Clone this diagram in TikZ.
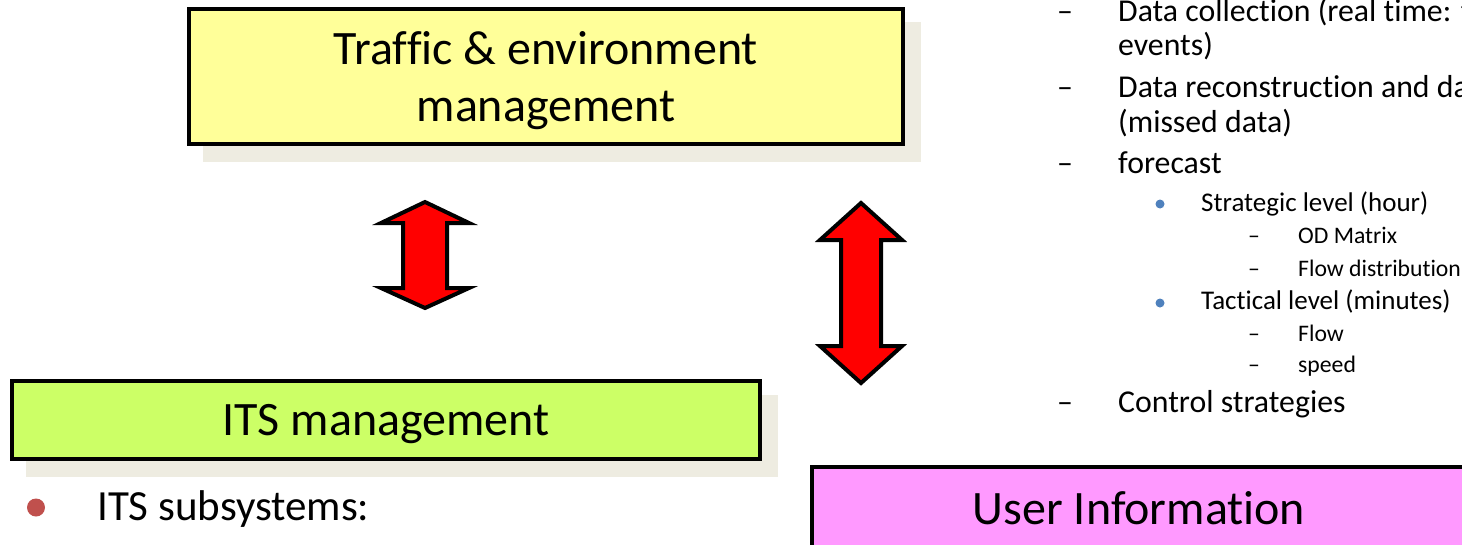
\documentclass[tikz,border=0pt]{standalone}
\usepackage{fontspec}
\setmainfont{Carlito}[Ligatures={NoCommon,NoRequired,NoContextual}]
\definecolor{boxyellow}{HTML}{FFFF99}
\definecolor{boxgreen}{HTML}{CCFF66}
\definecolor{boxpink}{HTML}{FF99FF}
\definecolor{shadowc}{HTML}{EEECE1}
\definecolor{bulblue}{HTML}{4F81BD}
\definecolor{bulred}{HTML}{C0504D}
\definecolor{arrred}{HTML}{FF0000}
\begin{document}
\begin{tikzpicture}[x=1pt,y=-1pt,
  titlebox/.style={draw=black, line width=4pt, inner sep=0pt, align=center,
    font=\fontsize{48}{57}\selectfont, text depth=0pt},
  shadowbox/.style={fill=shadowc},
  bigarrow/.style={draw=black, fill=arrred, line width=4pt, line join=miter},
  lvlone/.style={anchor=base west, inner sep=0pt, font=\fontsize{31.8}{37}\selectfont},
  lvltwo/.style={anchor=base west, inner sep=0pt, font=\fontsize{27}{32}\selectfont},
  lvlthree/.style={anchor=base west, inner sep=0pt, font=\fontsize{23.7}{28}\selectfont},
  lvlmain/.style={anchor=base west, inner sep=0pt, font=\fontsize{43}{50}\selectfont},
  dotblue/.style={circle, fill=bulblue, inner sep=0pt, minimum size=9pt},
  dotred/.style={circle, fill=bulred, inner sep=0pt, minimum size=18pt}
]
\useasboundingbox (0,0) rectangle (1462,544);
\begin{scope}
\clip (0,0) rectangle (1462,544);
\fill[white] (0,0) rectangle (1462,544);

% shadows
\fill[shadowbox] (203,22) rectangle (921,162);
\fill[shadowbox] (26,395) rectangle (778,477);
\fill[shadowbox] (826,481) rectangle (1484,567);

% boxes
\node[titlebox, fill=boxyellow, minimum width=714pt, minimum height=135pt] (tem) at (546,76.5)
  {Traffic \& environment\\management};
\node[titlebox, fill=boxgreen, minimum width=748pt, minimum height=78pt] (its) at (386,420)
  {ITS management};
\node[titlebox, fill=boxpink, minimum width=654pt, minimum height=82pt] (ui) at (1139,508)
  {User Information};

% double arrows
\draw[bigarrow] (425,202) -- (469,223) -- (447,223) -- (447,288) -- (469,288) -- (425,308)
  -- (381,288) -- (403,288) -- (403,223) -- (381,223) -- cycle;
\draw[bigarrow] (861,203) -- (902,240) -- (881,240) -- (881,346) -- (902,346) -- (861,383)
  -- (820,346) -- (841,346) -- (841,240) -- (820,240) -- cycle;

% right list
\node[lvlone] (da) at (1057,21) {–};
\node[lvlone] (ta) at (1118,21) {Data collection (real time: traffic};
\node[lvlone] (tab) at (1118,55) {events)};
\node[lvlone] (db) at (1057,97) {–};
\node[lvlone] (tb) at (1118,97) {Data reconstruction and data};
\node[lvlone] (tbb) at (1118,132) {(missed data)};
\node[lvlone] (dc) at (1057,173) {–};
\node[lvlone] (tc) at (1118,173) {forecast};
\node[dotblue] (ba) at (1160,204) {};
\node[lvltwo] (sa) at (1201,211) {Strategic level (hour)};
\node[lvlthree] (dda) at (1248,243) {–};
\node[lvlthree] (ua) at (1298,243) {OD Matrix};
\node[lvlthree] (ddb) at (1248,276) {–};
\node[lvlthree] (ub) at (1298,276) {Flow distribution};
\node[dotblue] (bb) at (1160,303) {};
\node[lvltwo] (sb) at (1201,309) {Tactical level (minutes)};
\node[lvlthree] (ddc) at (1248,341) {–};
\node[lvlthree] (uc) at (1298,341) {Flow};
\node[lvlthree] (ddd) at (1248,372) {–};
\node[lvlthree] (ud) at (1298,372) {speed};
\node[lvlone] (dd) at (1057,412) {–};
\node[lvlone] (td) at (1118,412) {Control strategies};

% bottom left
\node[dotred] (br) at (36,507.5) {};
\node[lvlmain] (its2) at (97,520) {ITS subsystems:};
\end{scope}
\end{tikzpicture}
\end{document}
